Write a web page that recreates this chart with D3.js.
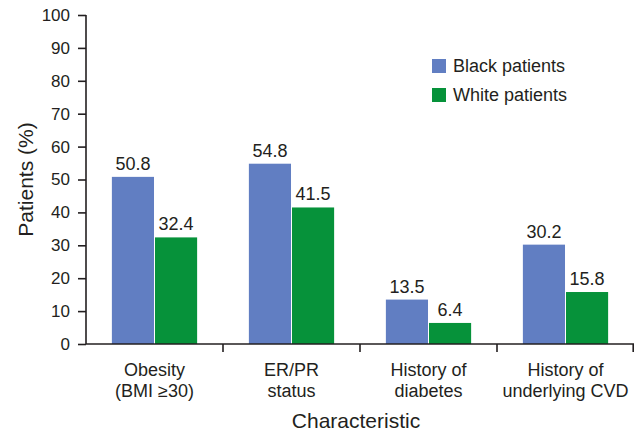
<!DOCTYPE html>
<html>
<head>
<meta charset="utf-8">
<script src="https://cdn.jsdelivr.net/npm/d3@7"></script>
<style>
  body { margin: 0; background: #fff; }
  text { font-family: "Liberation Sans", Arial, sans-serif; fill: #231f20; }
</style>
</head>
<body>
<svg id="chart" width="638" height="431"></svg>
<script>
'use strict';

const categories = [
  ['Obesity', '(BMI \u226530)'],
  ['ER/PR', 'status'],
  ['History of', 'diabetes'],
  ['History of', 'underlying CVD'],
];
const seriesNames = ['Black patients', 'White patients'];
const blackValues = [50.8, 54.8, 13.5, 30.2];
const whiteValues = [32.4, 41.5, 6.4, 15.8];
const yTicks = [0, 10, 20, 30, 40, 50, 60, 70, 80, 90, 100];

const colors = ['#617ec2', '#06923a'];
const margin = { left: 86, right: 4, top: 15, bottom: 87 };
const width = 638;
const height = 431;

const svg = d3.select('#chart');
const innerW = width - margin.left - margin.right;
const innerH = height - margin.top - margin.bottom;

const x = d3.scaleBand()
  .domain(d3.range(categories.length))
  .range([0, innerW]);

// two bars per group, one pixel apart, with wide space around them
const xSub = d3.scaleBand()
  .domain([0, 1])
  .range([0, x.bandwidth()])
  .paddingInner(0.023)
  .paddingOuter(0.6);

const y = d3.scaleLinear().domain([0, 100]).range([innerH, 0]);

const g = svg.append('g')
  .attr('transform', `translate(${margin.left},${margin.top})`);

// bars
const groups = g.selectAll('.group')
  .data(categories.map((c, i) => [blackValues[i], whiteValues[i]]))
  .enter()
  .append('g')
  .attr('transform', (d, i) => `translate(${x(i)},0)`);

groups.selectAll('rect')
  .data((d) => d)
  .enter()
  .append('rect')
  .attr('x', (d, j) => xSub(j))
  .attr('width', xSub.bandwidth())
  .attr('y', (d) => y(d))
  .attr('height', (d) => innerH - y(d))
  .attr('fill', (d, j) => colors[j]);

groups.selectAll('.val')
  .data((d) => d)
  .enter()
  .append('text')
  .attr('x', (d, j) => xSub(j) + xSub.bandwidth() / 2)
  .attr('y', (d) => y(d) - 7)
  .attr('text-anchor', 'middle')
  .attr('font-size', 18)
  .text((d) => d.toFixed(1));

// y axis
const yAxis = g.append('g')
  .call(d3.axisLeft(y).tickValues(yTicks).tickSize(8).tickPadding(8));
yAxis.selectAll('text').attr('font-size', 17).style('font-family', null);
yAxis.selectAll('line, path').attr('stroke', '#231f20').attr('stroke-width', 1.6);
yAxis.select('.domain').attr('d', `M0,${innerH}V0`);

// x axis with ticks between groups
const xAxis = g.append('g').attr('transform', `translate(0,${innerH})`);
xAxis.append('line')
  .attr('x1', 0).attr('x2', innerW)
  .attr('stroke', '#231f20').attr('stroke-width', 1.6);
xAxis.selectAll('.tick')
  .data(d3.range(1, categories.length + 1))
  .enter()
  .append('line')
  .attr('x1', (i) => (i < categories.length ? x(i) : innerW - 0.8))
  .attr('x2', (i) => (i < categories.length ? x(i) : innerW - 0.8))
  .attr('y1', 0).attr('y2', 8)
  .attr('stroke', '#231f20').attr('stroke-width', 1.6);

const catLabels = xAxis.selectAll('.cat')
  .data(categories)
  .enter()
  .append('text')
  .attr('text-anchor', 'middle')
  .attr('font-size', 18)
  .attr('transform', (d, i) => `translate(${x(i) + x.bandwidth() / 2},32)`);
catLabels.selectAll('tspan')
  .data((d) => d)
  .enter()
  .append('tspan')
  .attr('x', 0)
  .attr('dy', (d, k) => (k === 0 ? 0 : 21))
  .text((d) => d);

// axis titles
svg.append('text')
  .attr('x', margin.left + innerW / 2 - 4)
  .attr('y', 428)
  .attr('text-anchor', 'middle')
  .attr('font-size', 21)
  .text('Characteristic');

svg.append('text')
  .attr('transform', `translate(33,${margin.top + innerH / 2}) rotate(-90)`)
  .attr('text-anchor', 'middle')
  .attr('font-size', 21)
  .text('Patients (%)');

// legend
const legend = svg.append('g').attr('transform', 'translate(432,59)');
const items = legend.selectAll('g')
  .data(seriesNames)
  .enter()
  .append('g')
  .attr('transform', (d, i) => `translate(0,${i * 29})`);
items.append('rect')
  .attr('width', 14).attr('height', 14)
  .attr('fill', (d, i) => colors[i]);
items.append('text')
  .attr('x', 21).attr('y', 13)
  .attr('font-size', 18)
  .text((d) => d);
</script>
</body>
</html>
